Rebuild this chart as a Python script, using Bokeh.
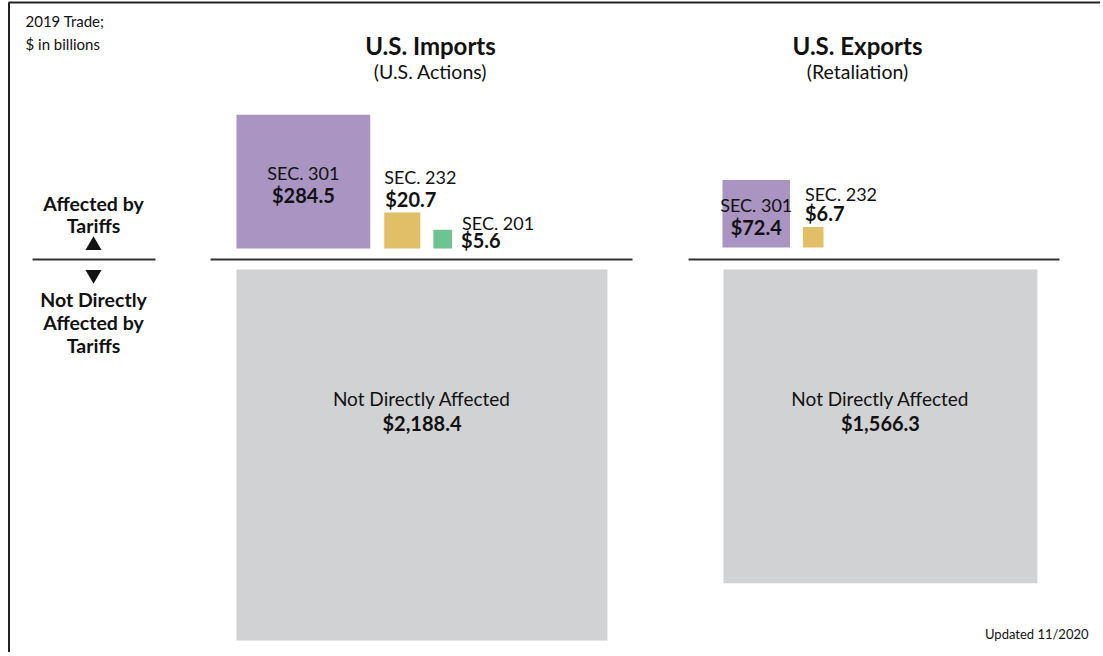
from bokeh.plotting import figure
from bokeh.models import Range1d
from bokeh.core.properties import value
from bokeh.embed import file_html
from bokeh.resources import INLINE
import math

# ---- data ($ billions, 2019 trade) ----
import_sections = ["SEC. 301", "SEC. 232", "SEC. 201"]
import_values = [284.5, 20.7, 5.6]
import_unaffected = 2188.4
export_sections = ["SEC. 301", "SEC. 232"]
export_values = [72.4, 6.7]
export_unaffected = 1566.3
tariff_colors = ["#A994C2", "#E1BF66", "#6DC492"]
gray = "#D1D2D4"
FONT = "Lato"

W, H = 1100, 652
p = figure(width=W, height=H, output_backend="svg", toolbar_location=None,
           x_range=Range1d(0, W), y_range=Range1d(H, 0),
           min_border=0, outline_line_color=None)
p.axis.visible = False
p.grid.visible = False

K = 7.93  # pixels per sqrt($B)  (area proportional to value)
def side(v):
    return K * math.sqrt(v)

def txt(x, y, s, size=16, bold=False, align="center", color="#111111"):
    p.text(x=[x], y=[y], text=[s], text_font=value(FONT),
           text_font_size=f"{size}px", text_font_style="bold" if bold else "normal",
           text_align=align, text_baseline="middle", text_color=color)

def fmt(v):
    return "${:,.1f}".format(v)

# frame lines (top and left)
p.segment(x0=[8], y0=[2], x1=[W], y1=[2], line_color="#222222", line_width=2)
p.segment(x0=[8.5], y0=[2], x1=[8.5], y1=[H], line_color="#222222", line_width=2)

# ---- panels ----
panels = [
    dict(left=236, base=248, gap_top=269, secs=import_sections, vals=import_values,
         un=import_unaffected, gaps=[14, 13], line=(210, 632),
         title="U.S. Imports", sub="(U.S. Actions)", tx=430),
    dict(left=722, base=247, gap_top=269, secs=export_sections, vals=export_values,
         un=export_unaffected, gaps=[13], line=(688, 1059),
         title="U.S. Exports", sub="(Retaliation)", tx=857),
]

for pn in panels:
    # baseline
    p.segment(x0=[pn["line"][0]], y0=[259], x1=[pn["line"][1]], y1=[259],
              line_color="#333333", line_width=1.8)
    # headings
    txt(pn["tx"], 45, pn["title"], size=24, bold=True)
    txt(pn["tx"], 71, pn["sub"], size=19.5)
    # not directly affected square
    s = side(pn["un"])
    l = pn["left"] + (1 if pn["left"] == 722 else 0)
    p.quad(left=[l], right=[l + s], top=[pn["gap_top"]], bottom=[pn["gap_top"] + s],
           fill_color=gray, line_color=None)
    txt(l + s / 2, 398, "Not Directly Affected", size=19)
    txt(l + s / 2, 422, fmt(pn["un"]), size=20, bold=True)
    # affected squares
    x = pn["left"]
    for i, (sec, v) in enumerate(zip(pn["secs"], pn["vals"])):
        s = side(v)
        p.quad(left=[x], right=[x + s], top=[pn["base"] - s], bottom=[pn["base"]],
               fill_color=tariff_colors[i], line_color=None)
        if i == 0:
            cy = pn["base"] - s / 2
            txt(x + s / 2, cy - 9, sec, size=18)
            txt(x + s / 2, cy + 13, fmt(v), size=20, bold=True)
        else:
            top = pn["base"] - s
            if s > 25:
                txt(x, top - 35, sec, size=18, align="left")
                txt(x + 1, top - 13, fmt(v), size=20, bold=True, align="left")
            else:
                if pn["left"] == 236:
                    txt(x + s + 10, pn["base"] - 26, sec, size=18, align="left")
                    txt(x + s + 9, pn["base"] - 9, fmt(v), size=20, bold=True, align="left")
                else:
                    txt(x + 2, top - 33, sec, size=18, align="left")
                    txt(x + 2, top - 14, fmt(v), size=20, bold=True, align="left")
        if i < len(pn["gaps"]):
            x = x + s + pn["gaps"][i]

# ---- left legend ----
txt(25, 20, "2019 Trade;", size=15, align="left")
txt(25, 43, "$ in billions", size=15, align="left")
txt(93, 203, "Affected by", size=19.5, bold=True)
txt(93, 225, "Tariffs", size=19.5, bold=True)
p.scatter(x=[93], y=[245], marker="triangle", size=16, fill_color="#111111", line_color=None)
p.segment(x0=[32], y0=[259], x1=[155], y1=[259], line_color="#333333", line_width=1.8)
p.scatter(x=[93], y=[274], marker="inverted_triangle", size=16, fill_color="#111111", line_color=None)
txt(93, 299, "Not Directly", size=19.5, bold=True)
txt(93, 322, "Affected by", size=19.5, bold=True)
txt(93, 345, "Tariffs", size=19.5, bold=True)

txt(1088, 633, "Updated 11/2020", size=13, align="right")

open("out.html", "w").write(file_html(p, INLINE))
